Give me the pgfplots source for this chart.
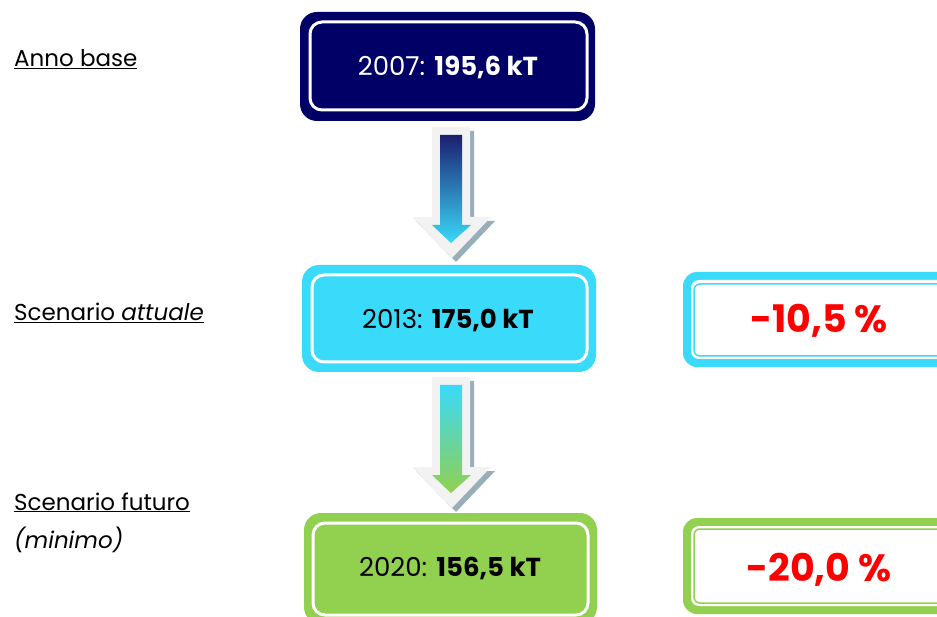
\documentclass[border=0pt]{standalone}
\usepackage{pgfplots}
\pgfplotsset{compat=1.18}
\usepackage{fontspec}
\setmainfont{Poppins}
\definecolor{navy}{HTML}{000066}
\definecolor{cyanbox}{HTML}{3ADAFA}
\definecolor{greenbox}{HTML}{92D050}
\definecolor{arrowgrey}{HTML}{F2F2F2}
\definecolor{arrowshadow}{HTML}{98AEB9}
\definecolor{navyarrow}{HTML}{1B1F70}
\definecolor{pctred}{HTML}{FF0000}

% arrow shapes, #1 = vertical offset in px, #2/#3 = gradient colours
\newcommand\flowarrow[3]{%
  \fill[arrowshadow] (axis cs:436,{131+#1}) -- (axis cs:474,{131+#1}) -- (axis cs:474,{221+#1})
    -- (axis cs:495,{221+#1}) -- (axis cs:456,{262+#1}) -- (axis cs:416,{221+#1})
    -- (axis cs:436,{221+#1}) -- cycle;
  \fill[arrowgrey] (axis cs:432,{127+#1}) -- (axis cs:470,{127+#1}) -- (axis cs:470,{217+#1})
    -- (axis cs:491,{217+#1}) -- (axis cs:452,{258+#1}) -- (axis cs:412,{217+#1})
    -- (axis cs:432,{217+#1}) -- cycle;
  \shade[top color=#2, bottom color=#3] (axis cs:440,{135+#1}) -- (axis cs:462,{135+#1})
    -- (axis cs:462,{225+#1}) -- (axis cs:471,{225+#1}) -- (axis cs:451,{243+#1})
    -- (axis cs:432,{225+#1}) -- (axis cs:440,{225+#1}) -- cycle;
}

\begin{document}
\begin{tikzpicture}
\begin{axis}[
  hide axis,
  scale only axis,
  width=937pt, height=617pt,
  xmin=0, xmax=937, ymin=0, ymax=617,
  y dir=reverse,
  clip=false,
]
  \coordinate (bl) at (axis cs:0,617);
  \coordinate (tr) at (axis cs:937,0);

  % labels on the left
  \node[anchor=base west, inner sep=0pt, font=\fontsize{23}{27}\selectfont] at (axis cs:14,67) {\underline{Anno base}};
  \node[anchor=base west, inner sep=0pt, font=\fontsize{23}{27}\selectfont] at (axis cs:14,321) {\underline{Scenario \textit{attuale}}};
  \node[anchor=base west, inner sep=0pt, font=\fontsize{23}{27}\selectfont] at (axis cs:14,510) {\underline{Scenario futuro}};
  \node[anchor=base west, inner sep=0pt, font=\fontsize{23}{27}\selectfont] at (axis cs:14,548) {\textit{(minimo)}};

  % 2007 box
  \fill[navy, rounded corners=17pt] (axis cs:300,12) rectangle (axis cs:595,121);
  \draw[white, line width=3pt, rounded corners=12pt] (axis cs:310,22) rectangle (axis cs:587,110);
  \node[white, font=\fontsize{26}{30}\selectfont] at (axis cs:448,67) {2007: \textbf{195,6 kT}};

  \flowarrow{0}{navyarrow}{cyanbox}

  % 2013 box
  \fill[cyanbox, rounded corners=17pt] (axis cs:302,265) rectangle (axis cs:596,372);
  \draw[white, line width=3pt, rounded corners=12pt] (axis cs:312,275) rectangle (axis cs:587,362);
  \node[black, font=\fontsize{26}{30}\selectfont] at (axis cs:448,320) {2013: \textbf{175,0 kT}};

  \fill[cyanbox, rounded corners=14pt] (axis cs:683,272) rectangle (axis cs:955,367);
  \fill[white, rounded corners=8pt] (axis cs:691,280) rectangle (axis cs:950,359);
  \draw[cyanbox, line width=1.5pt, rounded corners=6pt] (axis cs:694,284) rectangle (axis cs:950,356);
  \node[pctred, font=\fontsize{38}{44}\selectfont\bfseries] at (axis cs:819,321) {-10,5 \%};

  \flowarrow{250}{cyanbox}{greenbox}

  % 2020 box
  \fill[greenbox, rounded corners=17pt] (axis cs:304,513) rectangle (axis cs:597,624);
  \draw[white, line width=3pt, rounded corners=12pt] (axis cs:313,523) rectangle (axis cs:588,615);
  \node[black, font=\fontsize{26}{30}\selectfont] at (axis cs:450,568) {2020: \textbf{156,5 kT}};

  \fill[greenbox, rounded corners=14pt] (axis cs:683,518) rectangle (axis cs:955,614);
  \fill[white, rounded corners=8pt] (axis cs:691,526) rectangle (axis cs:950,606);
  \draw[greenbox, line width=1.5pt, rounded corners=6pt] (axis cs:694,529) rectangle (axis cs:950,603);
  \node[pctred, font=\fontsize{38}{44}\selectfont\bfseries] at (axis cs:819,570) {-20,0 \%};
\end{axis}
\pgfresetboundingbox
\useasboundingbox (bl) rectangle (tr);
\end{tikzpicture}
\end{document}
